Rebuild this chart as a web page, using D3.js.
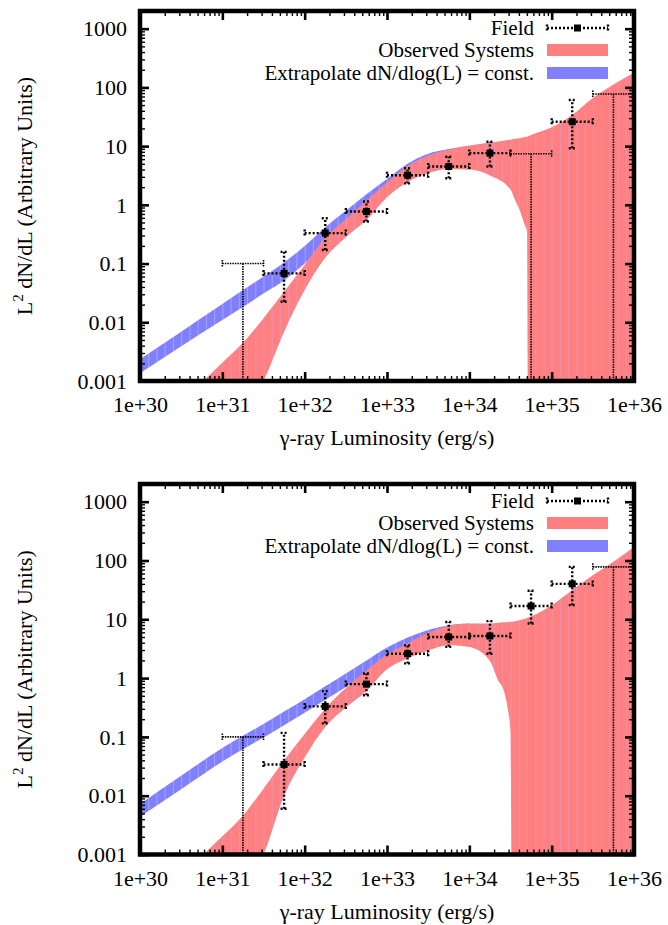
<!DOCTYPE html>
<html>
<head>
<meta charset="utf-8">
<script src="https://cdn.jsdelivr.net/npm/d3@7"></script>
<style>
body { margin: 0; background: #fff; }
</style>
</head>
<body>
<svg width="668" height="925"></svg>
<script>
// ---- data (luminosity grids are log10 L in erg/s, band edges are log10 of L^2 dN/dL) ----

// top panel, red band "Observed Systems"
var topRedL  = [30.5, 30.77, 31.0, 31.25, 31.5, 31.75, 32.0, 32.25, 32.5, 32.75, 33.0, 33.25, 33.5, 33.75, 34.0, 34.25, 34.5, 34.55, 34.62, 34.67, 34.70, 34.715, 35.0, 35.25, 35.5, 35.75, 36.0];
var topRedHi = [-3.4, -3.0, -2.69, -2.35, -1.93, -1.48, -1.02, -0.56, -0.24, 0.07, 0.38, 0.66, 0.84, 0.94, 1.01, 1.06, 1.11, 1.12, 1.14, 1.15, 1.16, 1.17, 1.32, 1.53, 1.82, 2.05, 2.25];
var topRedLo = [-3.6, -3.6, -3.6, -3.6, -3.0, -2.16, -1.45, -0.90, -0.55, -0.26, 0.13, 0.39, 0.54, 0.61, 0.60, 0.50, 0.26, 0.10, -0.12, -0.33, -0.45, -3.6, -3.6, -3.6, -3.6, -3.6, -3.6];

// top panel, blue band "Extrapolate dN/dlog(L) = const."
var topBlueL  = [30.0, 30.5, 31.0, 31.25, 31.5, 31.75, 32.0, 32.25, 32.5, 32.75, 33.0, 33.25, 33.5, 33.75, 34.0];
var topBlueHi = [-2.63, -2.16, -1.69, -1.45, -1.22, -0.98, -0.70, -0.38, -0.10, 0.18, 0.44, 0.70, 0.87, 0.95, 1.0];
var topBlueLo = [-2.87, -2.41, -1.96, -1.74, -1.51, -1.29, -1.00, -0.68, -0.40, -0.10, 0.15, 0.40, 0.55, 0.62, 0.60];

// top panel, "Field" points (bin centres, half-decade bins)
var topFieldL   = [31.75, 32.25, 32.75, 33.25, 33.75, 34.25, 35.25];
var topFieldY   = [0.068, 0.33, 0.77, 3.2, 4.5, 7.6, 26];
var topFieldLo  = [0.0224, 0.17, 0.52, 2.32, 2.84, 4.5, 9.2];
var topFieldHi  = [0.158, 0.59, 1.14, 4.2, 6.6, 11.9, 61];
var topLimitL   = [31.25, 34.75, 35.75];
var topLimitY   = [0.1, 7.4, 77];

// bottom panel, red band
var botRedL  = [30.5, 30.77, 31.0, 31.25, 31.5, 31.75, 32.0, 32.25, 32.5, 32.75, 33.0, 33.25, 33.5, 33.75, 34.0, 34.25, 34.35, 34.42, 34.47, 34.50, 34.515, 34.75, 35.0, 35.25, 35.5, 35.75, 36.0];
var botRedHi = [-3.4, -3.0, -2.69, -2.34, -1.88, -1.40, -0.95, -0.52, -0.17, 0.13, 0.40, 0.59, 0.77, 0.89, 0.93, 0.93, 0.94, 0.95, 0.95, 0.96, 0.96, 1.05, 1.24, 1.50, 1.75, 1.98, 2.23];
var botRedLo = [-3.6, -3.6, -3.6, -3.6, -3.0, -2.0, -1.35, -0.83, -0.50, -0.22, 0.15, 0.335, 0.47, 0.56, 0.53, 0.29, -0.04, -0.22, -0.55, -0.90, -3.6, -3.6, -3.6, -3.6, -3.6, -3.6, -3.6];

// bottom panel, blue band
var botBlueL  = [30.0, 30.5, 31.0, 31.25, 31.5, 31.75, 32.0, 32.25, 32.5, 32.75, 33.0, 33.25, 33.5, 33.75, 34.0];
var botBlueHi = [-2.14, -1.66, -1.19, -0.98, -0.78, -0.57, -0.36, -0.14, 0.08, 0.30, 0.52, 0.69, 0.82, 0.90, 0.93];
var botBlueLo = [-2.36, -1.89, -1.42, -1.21, -1.01, -0.80, -0.59, -0.37, -0.15, 0.07, 0.28, 0.45, 0.60, 0.68, 0.70];

// bottom panel, "Field" points
var botFieldL   = [31.75, 32.25, 32.75, 33.25, 33.75, 34.25, 34.75, 35.25];
var botFieldY   = [0.034, 0.33, 0.79, 2.6, 5.0, 5.2, 16.8, 40];
var botFieldLo  = [0.006, 0.17, 0.51, 1.78, 3.4, 2.6, 8.5, 17.4];
var botFieldHi  = [0.117, 0.60, 1.2, 3.6, 9.0, 9.3, 30.5, 78];
var botLimitL   = [31.25, 35.75];
var botLimitY   = [0.1, 78];

var xTicks = [1e30, 1e31, 1e32, 1e33, 1e34, 1e35, 1e36];
var yTicks = [0.001, 0.01, 0.1, 1, 10, 100, 1000];
var legendLabels = ["Field", "Observed Systems", "Extrapolate dN/dlog(L) = const."];

var RED = "#ff8080", BLUE = "#8080ff";
var FONT = "'Liberation Serif', 'Times New Roman', Times, serif";
var binHalf = 0.25;

var svg = d3.select("svg").attr("font-family", FONT);
var left = 140, right = 634;

var x = d3.scaleLog().domain([1e30, 1e36]).range([left, right]);
function p10(v) { return Math.pow(10, v); }

function minorValues(lo, hi) {
  var out = [];
  for (var e = lo; e < hi; e++) {
    for (var m = 2; m <= 9; m++) out.push(m * Math.pow(10, e));
  }
  return out;
}

function label(sel, size) {
  return sel.style("font-family", FONT).style("font-size", size + "px").attr("fill", "#000");
}

function drawPanel(p) {
  var y = d3.scaleLog().domain([0.001, 2000]).range([p.bottom, p.top]);
  var g = svg.append("g");

  var clipId = "clip" + p.id;
  svg.append("clipPath").attr("id", clipId)
    .append("rect").attr("x", left).attr("y", p.top)
    .attr("width", right - left).attr("height", p.bottom - p.top);
  var plot = g.append("g").attr("clip-path", "url(#" + clipId + ")");

  function band(L, hi, lo, fill, seam, name) {
    var rows = L.map(function(d, i) { return {l: d, hi: hi[i], lo: lo[i]}; });
    var area = d3.area()
      .curve(d3.curveMonotoneX)
      .x(function(d) { return x(p10(d.l)); })
      .y0(function(d) { return y(p10(d.lo)); })
      .y1(function(d) { return y(p10(d.hi)); });
    plot.append("path").datum(rows).attr("d", area).attr("fill", fill);

    // gnuplot-like strip seams, clipped to the band
    var bid = "band" + p.id + name;
    svg.append("clipPath").attr("id", bid).append("path").datum(rows).attr("d", area);
    var seams = d3.range(300, 361).map(function(k) { return k / 10; });
    plot.append("g").attr("clip-path", "url(#" + bid + ")")
      .selectAll("line").data(seams).enter().append("line")
      .attr("x1", function(d) { return x(p10(d)) + 0.5; })
      .attr("x2", function(d) { return x(p10(d)) + 0.5; })
      .attr("y1", p.top).attr("y2", p.bottom)
      .attr("stroke", seam).attr("stroke-width", 0.7);
  }

  band(p.blueL, p.blueHi, p.blueLo, BLUE, "rgba(255,255,255,0.4)", "b");
  band(p.redL, p.redHi, p.redLo, RED, "rgba(215,165,240,0.6)", "r");

  // upper limits
  var lim = plot.append("g").attr("stroke", "#000").attr("stroke-width", 1.6)
    .attr("stroke-dasharray", "1.5,1").attr("fill", "none");
  p.limL.forEach(function(l, i) {
    var xa = x(p10(l - binHalf)), xb = x(p10(l + binHalf)), xc = x(p10(l));
    var yv = y(p.limY[i]);
    lim.append("line").attr("x1", xa).attr("x2", xb).attr("y1", yv).attr("y2", yv);
    lim.append("line").attr("x1", xa).attr("x2", xa).attr("y1", yv - 3.5).attr("y2", yv + 3.5);
    lim.append("line").attr("x1", xb).attr("x2", xb).attr("y1", yv - 3.5).attr("y2", yv + 3.5);
    lim.append("line").attr("x1", xc).attr("x2", xc).attr("y1", yv).attr("y2", p.bottom + 5);
  });

  // field points with error bars
  var pts = plot.append("g");
  p.fieldL.forEach(function(l, i) {
    var xa = x(p10(l - binHalf)), xb = x(p10(l + binHalf)), xc = x(p10(l));
    var yv = y(p.fieldY[i]), ylo = y(p.fieldLo[i]), yhi = y(p.fieldHi[i]);
    var e = pts.append("g").attr("stroke", "#000").attr("stroke-width", 2.4)
      .attr("stroke-dasharray", "2,2").attr("fill", "none");
    e.append("line").attr("x1", xa).attr("x2", xb).attr("y1", yv).attr("y2", yv);
    e.append("line").attr("x1", xc).attr("x2", xc).attr("y1", ylo).attr("y2", yhi);
    e.append("line").attr("x1", xa).attr("x2", xa).attr("y1", yv - 3.5).attr("y2", yv + 3.5);
    e.append("line").attr("x1", xb).attr("x2", xb).attr("y1", yv - 3.5).attr("y2", yv + 3.5);
    e.append("line").attr("x1", xc - 3.5).attr("x2", xc + 3.5).attr("y1", ylo).attr("y2", ylo);
    e.append("line").attr("x1", xc - 3.5).attr("x2", xc + 3.5).attr("y1", yhi).attr("y2", yhi);
    pts.append("rect").attr("x", xc - 3.5).attr("y", yv - 3.5).attr("width", 7).attr("height", 7).attr("fill", "#000");
  });

  // axes: ticks pointing inward on all four sides
  var h = p.bottom - p.top, w = right - left;
  var fmtX = function(d) { return "1e+" + Math.round(Math.log10(d)); };
  var fmtY = d3.format("~g");

  var ax = g.append("g").attr("transform", "translate(0," + p.bottom + ")")
    .call(d3.axisBottom(x).tickValues(xTicks).tickFormat(fmtX).tickSize(-9));
  label(ax.selectAll("text").attr("y", 31).attr("dy", null), 22);
  g.append("g").attr("transform", "translate(0," + p.bottom + ")")
    .call(d3.axisBottom(x).tickValues(minorValues(30, 36)).tickFormat("").tickSize(-5));
  g.append("g").attr("transform", "translate(0," + p.top + ")")
    .call(d3.axisTop(x).tickValues(xTicks).tickFormat("").tickSize(-9));
  g.append("g").attr("transform", "translate(0," + p.top + ")")
    .call(d3.axisTop(x).tickValues(minorValues(30, 36)).tickFormat("").tickSize(-5));

  var ay = g.append("g").attr("transform", "translate(" + left + ",0)")
    .call(d3.axisLeft(y).tickValues(yTicks).tickFormat(fmtY).tickSize(-9));
  label(ay.selectAll("text").attr("x", -13).attr("dy", "0.33em"), 22);
  g.append("g").attr("transform", "translate(" + left + ",0)")
    .call(d3.axisLeft(y).tickValues(minorValues(-3, 3).concat([2000])).tickFormat("").tickSize(-5));
  g.append("g").attr("transform", "translate(" + right + ",0)")
    .call(d3.axisRight(y).tickValues(yTicks).tickFormat("").tickSize(-9));
  g.append("g").attr("transform", "translate(" + right + ",0)")
    .call(d3.axisRight(y).tickValues(minorValues(-3, 3).concat([2000])).tickFormat("").tickSize(-5));

  g.selectAll(".domain").remove();
  g.selectAll(".tick line").attr("stroke", "#000").attr("stroke-width", function(d) {
    return (xTicks.indexOf(d) >= 0 || yTicks.indexOf(d) >= 0) ? 2.6 : 1.4;
  });

  g.append("rect").attr("x", left).attr("y", p.top).attr("width", w).attr("height", h)
    .attr("fill", "none").attr("stroke", "#000").attr("stroke-width", 4.5);

  // legend
  var lg = g.append("g");
  var ly = [p.top + 17, p.top + 39, p.top + 62];
  legendLabels.forEach(function(t, i) {
    label(lg.append("text").attr("x", 534).attr("y", ly[i] + 7).attr("text-anchor", "end"), 21).text(t);
  });
  var fe = lg.append("g").attr("stroke", "#000").attr("stroke-width", 2.4)
    .attr("stroke-dasharray", "2,2");
  fe.append("line").attr("x1", 547).attr("x2", 608).attr("y1", ly[0]).attr("y2", ly[0]);
  fe.append("line").attr("x1", 547).attr("x2", 547).attr("y1", ly[0] - 3.5).attr("y2", ly[0] + 3.5);
  fe.append("line").attr("x1", 608).attr("x2", 608).attr("y1", ly[0] - 3.5).attr("y2", ly[0] + 3.5);
  lg.append("rect").attr("x", 574).attr("y", ly[0] - 3.5).attr("width", 7).attr("height", 7).attr("fill", "#000");
  lg.append("rect").attr("x", 547).attr("y", ly[1] - 6).attr("width", 61).attr("height", 12).attr("fill", RED);
  lg.append("rect").attr("x", 547).attr("y", ly[2] - 6).attr("width", 61).attr("height", 12).attr("fill", BLUE);

  // axis titles
  label(g.append("text").attr("x", (left + right) / 2).attr("y", p.bottom + 64)
    .attr("text-anchor", "middle"), 22)
    .text("\u03b3-ray Luminosity (erg/s)");
  var yl = label(g.append("text")
    .attr("transform", "translate(32," + ((p.top + p.bottom) / 2) + ") rotate(-90)")
    .attr("text-anchor", "middle"), 22);
  yl.append("tspan").text("L");
  yl.append("tspan").attr("dy", -9).style("font-size", "15px").text("2");
  yl.append("tspan").attr("dy", 9).text(" dN/dL (Arbitrary Units)");
}

drawPanel({
  id: "top", top: 11, bottom: 381,
  redL: topRedL, redHi: topRedHi, redLo: topRedLo,
  blueL: topBlueL, blueHi: topBlueHi, blueLo: topBlueLo,
  fieldL: topFieldL, fieldY: topFieldY, fieldLo: topFieldLo, fieldHi: topFieldHi,
  limL: topLimitL, limY: topLimitY
});

drawPanel({
  id: "bot", top: 484, bottom: 854.5,
  redL: botRedL, redHi: botRedHi, redLo: botRedLo,
  blueL: botBlueL, blueHi: botBlueHi, blueLo: botBlueLo,
  fieldL: botFieldL, fieldY: botFieldY, fieldLo: botFieldLo, fieldHi: botFieldHi,
  limL: botLimitL, limY: botLimitY
});
</script>
</body>
</html>
